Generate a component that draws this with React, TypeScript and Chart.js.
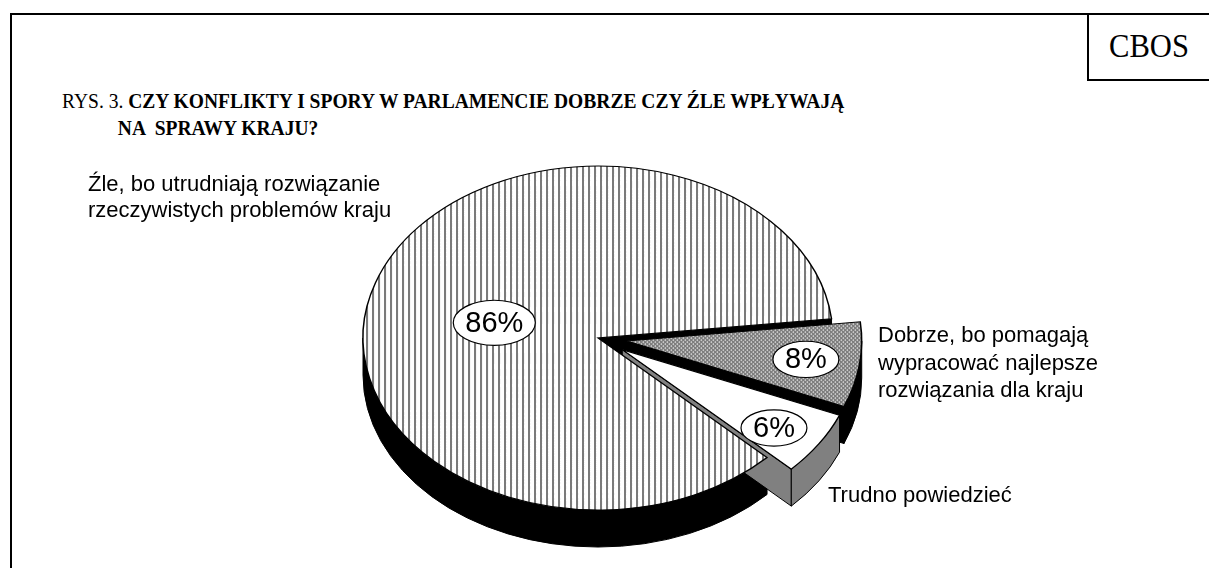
import React, { useEffect, useRef } from "react";
import { Chart, registerables } from "chart.js";

Chart.register(...registerables);

// ---- data ----
const categories = [
  "Źle, bo utrudniają rozwiązanie rzeczywistych problemów kraju",
  "Dobrze, bo pomagają wypracować najlepsze rozwiązania dla kraju",
  "Trudno powiedzieć",
];
const values = [86, 8, 6];
const titleLines = [
  "CZY KONFLIKTY I SPORY W PARLAMENCIE DOBRZE CZY ŹLE WPŁYWAJĄ",
  "NA  SPRAWY KRAJU?",
];
const figureTag = "RYS. 3.";
const sourceTag = "CBOS";
const labelLines = [
  ["Źle, bo utrudniają rozwiązanie", "rzeczywistych problemów kraju"],
  ["Dobrze, bo pomagają", "wypracować najlepsze", "rozwiązania dla kraju"],
  ["Trudno powiedzieć"],
];

// ---- styling (not data) ----
const EXPLODE = [0, 29, 29];
const SIDE_COLORS = ["#000000", "#000000", "#808080"];
const TILT = 0.732;
const DEPTH = 37;
const LABEL_ANCHOR = [
  { r: 0.45, da: -7.5 },
  { r: 0.77, da: 0 },
  { r: 0.79, da: 2 },
];
const SANS = "'Liberation Sans', Arial, sans-serif";
const SERIF = "'Liberation Serif', 'Times New Roman', serif";

function makeStripes(): CanvasPattern | string {
  const c = document.createElement("canvas");
  c.width = 6;
  c.height = 6;
  const g = c.getContext("2d")!;
  g.fillStyle = "#ffffff";
  g.fillRect(0, 0, 6, 6);
  g.fillStyle = "#7a7a7a";
  g.fillRect(0, 0, 2, 6);
  const p = g.createPattern(c, "repeat")!;
  try {
    p.setTransform(new DOMMatrix().scale(1, 1 / TILT));
  } catch (e) {}
  return p;
}

function makeCross(): CanvasPattern | string {
  const c = document.createElement("canvas");
  c.width = 4;
  c.height = 4;
  const g = c.getContext("2d")!;
  g.fillStyle = "#ffffff";
  g.fillRect(0, 0, 4, 4);
  for (let x = 0; x < 4; x++) {
    for (let y = 0; y < 4; y++) {
      if ((x + y) % 4 === 0 || (x - y + 4) % 4 === 0) {
        g.fillStyle = "#4a4a4a";
        g.fillRect(x, y, 1, 1);
      } else if ((x + y) % 2 === 1) {
        g.fillStyle = "#b4b4b4";
        g.fillRect(x, y, 1, 1);
      }
    }
  }
  const p = g.createPattern(c, "repeat")!;
  try {
    p.setTransform(new DOMMatrix().scale(1, 1 / TILT));
  } catch (e) {}
  return p;
}

function geometry(chart: any) {
  const arcs = chart.getDatasetMeta(0).data;
  return arcs.map((arc: any, i: number) => {
    const mid = (arc.startAngle + arc.endAngle) / 2;
    const ex = EXPLODE[i] * Math.cos(mid);
    const ey = EXPLODE[i] * Math.sin(mid);
    return {
      arc,
      x: arc.x,
      y: arc.y,
      a0: arc.startAngle,
      a1: arc.endAngle,
      R: arc.outerRadius,
      mid,
      ex,
      ey,
      cx: arc.x + ex,
      cy: arc.y + TILT * ey,
    };
  });
}

const pie3d = {
  id: "pie3d",
  beforeDatasetsDraw(chart: any) {
    const ctx: CanvasRenderingContext2D = chart.ctx;
    const geo = geometry(chart);
    ctx.save();
    ctx.lineWidth = 1;
    ctx.strokeStyle = "#000";
    ctx.lineJoin = "miter";
    const T = Math.PI * 2;
    geo.forEach((g: any, i: number) => {
      ctx.fillStyle = SIDE_COLORS[i];
      const ry = g.R * TILT;
      const wall = (th: number) => {
        const px = g.cx + g.R * Math.cos(th);
        const py = g.cy + ry * Math.sin(th);
        ctx.beginPath();
        ctx.moveTo(g.cx, g.cy);
        ctx.lineTo(px, py);
        ctx.lineTo(px, py + DEPTH);
        ctx.lineTo(g.cx, g.cy + DEPTH);
        ctx.closePath();
        ctx.fill();
        ctx.stroke();
      };
      if (Math.cos(g.a0) < 0) wall(g.a0);
      if (Math.cos(g.a1) > 0) wall(g.a1);
      for (let k = Math.floor(g.a0 / T) - 1; k <= Math.floor(g.a1 / T) + 1; k++) {
        const lo = Math.max(g.a0, k * T);
        const hi = Math.min(g.a1, k * T + Math.PI);
        if (hi - lo > 1e-6) {
          ctx.beginPath();
          ctx.ellipse(g.cx, g.cy, g.R, ry, 0, lo, hi, false);
          ctx.lineTo(g.cx + g.R * Math.cos(hi), g.cy + ry * Math.sin(hi) + DEPTH);
          ctx.ellipse(g.cx, g.cy + DEPTH, g.R, ry, 0, hi, lo, true);
          ctx.closePath();
          ctx.fill();
          ctx.stroke();
        }
      }
    });
    geo.forEach((g: any) => {
      ctx.save();
      ctx.translate(0, g.y);
      ctx.scale(1, TILT);
      ctx.translate(0, -g.y);
      ctx.translate(g.ex, g.ey);
      g.arc.draw(ctx);
      ctx.restore();
    });
    ctx.restore();
    return false;
  },
  afterDraw(chart: any) {
    const ctx: CanvasRenderingContext2D = chart.ctx;
    const geo = geometry(chart);
    ctx.save();
    ctx.font = `29px ${SANS}`;
    ctx.textAlign = "center";
    ctx.textBaseline = "middle";
    geo.forEach((g: any, i: number) => {
      const a = g.mid + (LABEL_ANCHOR[i].da * Math.PI) / 180;
      const r = LABEL_ANCHOR[i].r * g.R;
      const lx = g.cx + r * Math.cos(a);
      const ly = g.cy + TILT * r * Math.sin(a);
      const text = `${values[i]}%`;
      const tw = ctx.measureText(text).width;
      const rx = tw / 2 + 12;
      const ry = rx * 0.55;
      ctx.beginPath();
      ctx.ellipse(lx, ly, rx, ry, 0, 0, Math.PI * 2);
      ctx.fillStyle = "#fff";
      ctx.fill();
      ctx.lineWidth = 1.2;
      ctx.strokeStyle = "#000";
      ctx.stroke();
      ctx.fillStyle = "#000";
      ctx.fillText(text, lx, ly + 1);
    });
    ctx.restore();
  },
};

export default function App() {
  const ref = useRef<HTMLCanvasElement>(null);
  useEffect(() => {
    if (!ref.current) return;
    const chart = new Chart(ref.current, {
      type: "pie",
      data: {
        labels: categories,
        datasets: [
          {
            data: values,
            backgroundColor: [makeStripes(), makeCross(), "#ffffff"] as any,
            borderColor: "#000000",
            borderWidth: 1.5,
            borderJoinStyle: "miter",
            radius: 235,
            clip: false,
          } as any,
        ],
      },
      options: {
        responsive: false,
        animation: false,
        rotation: 134,
        radius: 235,
        events: [],
        layout: { padding: { left: 0, right: 13, top: 108, bottom: 0 } },
        plugins: { legend: { display: false }, tooltip: { enabled: false } },
      } as any,
      plugins: [pie3d as any],
    });
    return () => chart.destroy();
  }, []);

  const labelStyle: React.CSSProperties = {
    position: "absolute",
    fontFamily: SANS,
    fontSize: 22,
    lineHeight: "26px",
    color: "#000",
    whiteSpace: "nowrap",
  };

  return (
    <div
      style={{
        position: "absolute",
        left: 0,
        top: 0,
        width: 1209,
        height: 568,
        overflow: "hidden",
        background: "#fff",
      }}
    >
      <div
        style={{
          position: "absolute",
          left: 10,
          top: 13,
          width: 1400,
          height: 800,
          border: "2px solid #000",
        }}
      />
      <div
        style={{
          position: "absolute",
          left: 1087,
          top: 13,
          width: 200,
          height: 64,
          border: "2px solid #000",
        }}
      />
      <div
        style={{
          position: "absolute",
          left: 1089,
          top: 25,
          width: 120,
          textAlign: "center",
          fontFamily: SERIF,
          fontSize: 34,
          lineHeight: "42px",
          transform: "scaleX(0.9)",
          transformOrigin: "60px 0",
        }}
      >
        {sourceTag}
      </div>
      <div
        style={{
          position: "absolute",
          left: 62,
          top: 88,
          fontFamily: SERIF,
          fontSize: 21,
          lineHeight: "27px",
          whiteSpace: "pre",
          transform: "scaleX(0.93)",
          transformOrigin: "0 0",
        }}
      >
        <div>
          {figureTag} <b>{titleLines[0]}</b>
        </div>
        <div style={{ paddingLeft: 60 }}>
          <b>{titleLines[1]}</b>
        </div>
      </div>
      <canvas
        ref={ref}
        width={1209}
        height={568}
        style={{ position: "absolute", left: 0, top: 0 }}
      />
      <div style={{ ...labelStyle, left: 88, top: 171 }}>
        {labelLines[0].map((l, i) => (
          <div key={i}>{l}</div>
        ))}
      </div>
      <div style={{ ...labelStyle, left: 878, top: 321, lineHeight: "27.5px" }}>
        {labelLines[1].map((l, i) => (
          <div key={i}>{l}</div>
        ))}
      </div>
      <div style={{ ...labelStyle, left: 828, top: 482 }}>
        {labelLines[2].map((l, i) => (
          <div key={i}>{l}</div>
        ))}
      </div>
    </div>
  );
}
